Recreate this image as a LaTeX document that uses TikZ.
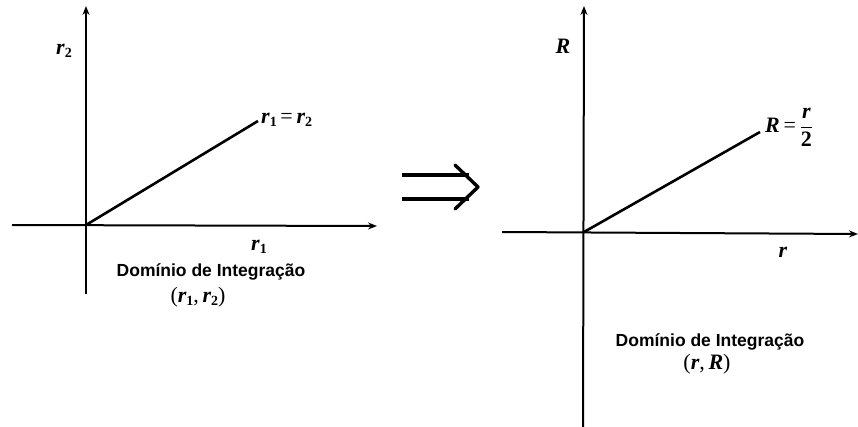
\documentclass[tikz,border=0pt]{standalone}
\usepackage{fontspec}
\setmainfont{Liberation Serif}
\newfontfamily\lblsans{Liberation Sans}
\usetikzlibrary{arrows.meta}
\newcommand{\vr}{{\bfseries\itshape r}}
\newcommand{\vR}{{\bfseries\itshape R}}
\newcommand{\sub}[1]{\raisebox{-0.35ex}{\fontsize{14}{14}\selectfont\bfseries #1}}
\begin{document}
\begin{tikzpicture}[x=1pt,y=-1pt,
  axis/.style={line width=2pt,-{Stealth[length=9pt,width=7pt]}},
  diag/.style={line width=2.6pt},
  lbl/.style={font=\fontsize{22}{24}\selectfont, inner sep=0pt},
  captext/.style={font=\lblsans\bfseries\fontsize{17.5}{20}\selectfont, inner sep=0pt},
  pairtext/.style={font=\fontsize{22}{24}\selectfont, inner sep=0pt}]
\fill[white] (0,0) rectangle (858,427);
\useasboundingbox (0,0) rectangle (858,427);
% left panel
\coordinate (O1) at (86,225);
\coordinate (Y1t) at (86,6);
\coordinate (Y1b) at (86,294);
\coordinate (X1l) at (12,225);
\coordinate (X1r) at (377,226);
\coordinate (L1) at (258,121);
\draw[axis] (Y1b) -- (Y1t);
\draw[axis] (X1l) -- (X1r);
\draw[diag] (O1) -- (L1);
\node[lbl] (r2) at (64,51) {\vr\sub{2}};
\node[lbl,anchor=west] (eq1) at (261,120) {\vr\sub{1}\,=\,\vr\sub{2}};
\node[lbl] (r1) at (259,247) {\vr\sub{1}};
\node[captext] (d1) at (211,272) {Domínio de Integração};
\node[pairtext] (p1) at (198,297) {(\vr\sub{1},\,\vr\sub{2})};
% arrow between
\coordinate (A1a) at (402,175);
\coordinate (A1b) at (469,175);
\coordinate (A2a) at (402,199);
\coordinate (A2b) at (469,199);
\coordinate (H1) at (455,165);
\coordinate (H2) at (478,187);
\coordinate (H3) at (455,209);
\draw[line width=3.4pt] (A1a) -- (A1b);
\draw[line width=3.4pt] (A2a) -- (A2b);
\draw[line width=3.4pt,line cap=round,line join=round] (H1) -- (H2) -- (H3);
% right panel
\coordinate (O2) at (584,232);
\coordinate (Y2t) at (584,6);
\coordinate (Y2b) at (583,427);
\coordinate (X2l) at (502,232);
\coordinate (X2r) at (858,234);
\coordinate (L2) at (760,132);
\draw[axis] (Y2b) -- (Y2t);
\draw[axis] (X2l) -- (X2r);
\draw[diag] (O2) -- (L2);
\node[lbl] (R) at (563,46) {\vR};
\node[lbl,anchor=west] (eq2) at (765,127) {\vR\,=\,$\displaystyle\frac{\hbox{\bfseries\itshape r}}{\hbox{\bfseries 2}}$};
\node[lbl] (r) at (783,252) {\vr};
\node[captext] (d2) at (710,342) {Domínio de Integração};
\node[pairtext] (p2) at (707,364) {(\vr,\,\vR)};
\end{tikzpicture}
\end{document}
